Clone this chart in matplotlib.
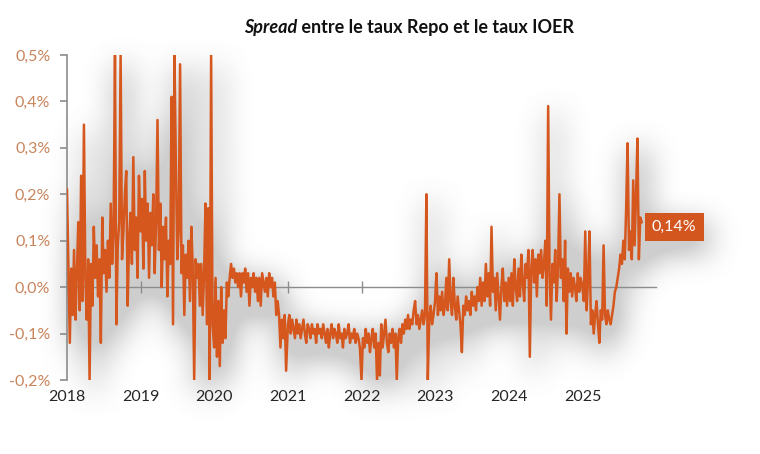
import numpy as np
import pandas as pd
import matplotlib
matplotlib.use("Agg")
import matplotlib.pyplot as plt
import matplotlib.dates as mdates

# weekly Repo - IOER spread, in basis points
spread_2018 = [21, 5, -12, 4, -6, 8, -7, 3, 14, -5, 24, -3, 35, 2, -7, 6, -20, 5, -4, 13,
               2, 9, -2, 6, -12, 15, 3, 8, -1, 10, 2, 18, 5, 12, 50, -8, 9, 14, 50, 6,
               12, 20, 25, -4, 10, 16, 5, 28, 8, 15, 2, 24]
spread_2019 = [12, 19, 4, 25, 10, 18, 2, 16, 9, 20, 3, 14, 36, 8, 18, 0, 13, 6, 15, -2,
               10, 5, 41, -8, 50, 27, 6, 12, 48, 3, 9, -6, 7, 2, 10, -3, 13, 4, -20, 6,
               2, 5, -4, 5, -6, 3, 18, -8, 17, -20, 50, -8]
spread_2020 = [-13, 2, -15, -3, -17, 0, -12, -5, -11, 1, -2, 2, 5, 2, 4, 1, 3, 0, 3, -2,
               3, 1, 4, -1, 3, -4, 2, 0, 3, -1, 2, -3, 2, -4, 3, 1, -1, 2, -2, 3,
               0, 2, -2, 1, -6, -3, -6, -13, -7, -11, -6, -18]
spread_2021 = [-8, -6, -10, -7, -9, -11, -7, -10, -8, -11, -9, -7, -10, -12, -8, -9, -11, -8, -10, -9,
               -12, -8, -10, -9, -11, -8, -10, -12, -9, -13, -10, -8, -11, -9, -10, -12, -8, -11, -10, -13,
               -9, -11, -10, -8, -12, -10, -11, -9, -12, -10, -11, -13]
spread_2022 = [-20, -11, -13, -9, -12, -10, -14, -11, -9, -13, -10, -20, -12, -19, -8, -13, -10, -7, -12, -14,
               -10, -12, -9, -13, -10, -20, -11, -9, -12, -8, -10, -7, -9, -6, -9, -7, -8, -5, -3, -8,
               -6, -9, -7, -5, -8, -6, 20, -20, -7, -4, -8, -6]
spread_2023 = [-3, 3, -6, -2, -5, -1, -6, -4, 2, -5, 6, -3, -6, 2, -4, -7, -2, -5, -8, -14,
               -4, -6, -2, -5, -3, -6, -1, -4, -2, -5, 0, -3, 2, -4, 1, -3, 5, -2, 3, -4,
               13, -1, 2, -5, 3, -2, -7, 0, 4, -3, 1, -4]
spread_2024 = [2, -3, 3, -4, 6, 0, -3, 4, -2, 7, 1, -3, 5, 2, 8, -15, 4, 8, 1, 6,
               -2, 7, 3, 8, 2, 5, 10, -4, 39, 3, -7, 5, 1, 8, -3, 4, 20, 2, 6, -3,
               10, -10, 4, -1, 3, -2, 2, 0, -3, 3, -1, 2]
spread_2025 = [0, -3, 12, -5, 2, 12, -8, -5, -10, -6, -3, -8, -12, -5, -7, 9, -6, -8, -5, -7,
               -8, -6, -4, -1, 0, 2, 4, 7, 5, 10, 6, 17, 31, 8, 12, 6, 23, 9, 20, 32,
               6, 15, 14]

years = [2018, 2019, 2020, 2021, 2022, 2023, 2024, 2025]
series = [spread_2018, spread_2019, spread_2020, spread_2021,
          spread_2022, spread_2023, spread_2024, spread_2025]

ytick_vals = [-0.2, -0.1, 0.0, 0.1, 0.2, 0.3, 0.4, 0.5]
ytick_labels = ['-0,2%', '-0,1%', '0,0%', '0,1%', '0,2%', '0,3%', '0,4%', '0,5%']
last_label = '0,14%'
title_italic = 'Spread'
title_rest = ' entre le taux Repo et le taux IOER'

ORANGE = '#D5571E'
GRAY = '#8C8C8C'

plt.rcParams['font.family'] = ['Lato', 'DejaVu Sans']

dates = []
vals = []
for yr, s in zip(years, series):
    d = pd.date_range(f'{yr}-01-01', periods=len(s), freq='7D')
    dates.extend(mdates.date2num(d.to_pydatetime()))
    vals.extend(np.array(s) / 100.0)
dates = np.array(dates)
vals = np.array(vals)

xlim = (mdates.date2num(pd.Timestamp('2018-01-01')), mdates.date2num(pd.Timestamp('2026-01-01')))
ylim = (-0.2, 0.5)
W, H = 760, 454
ax_pos = [67 / W, 1 - 380 / H, (656 - 67) / W, (380 - 55) / H]


def add_label(a, color, textcolor):
    return a.annotate(last_label, xy=(dates[-1], vals[-1]), xytext=(10, -5),
                      textcoords='offset pixels', ha='left', va='center',
                      fontsize=11.5, color=textcolor,
                      bbox=dict(boxstyle='square,pad=0.45', fc=color, ec='none'))


def box_blur(a, r):
    for axis in (0, 1):
        pad = [(0, 0), (0, 0)]
        pad[axis] = (r + 1, r)
        c = np.cumsum(np.pad(a, pad), axis=axis)
        if axis == 0:
            a = (c[2 * r + 1:] - c[:-2 * r - 1]) / (2 * r + 1)
        else:
            a = (c[:, 2 * r + 1:] - c[:, :-2 * r - 1]) / (2 * r + 1)
    return a


# soft drop shadow: render the line alone, blur it, put it behind the chart
f2 = plt.figure(figsize=(W / 100, H / 100), dpi=100)
a2 = f2.add_axes(ax_pos)
a2.plot(dates, vals, color='k', lw=6)
add_label(a2, 'k', 'k')
a2.set_xlim(*xlim)
a2.set_ylim(*ylim)
a2.axis('off')
f2.canvas.draw()
mask = 1 - np.asarray(f2.canvas.buffer_rgba())[:, :, 0].astype(float) / 255
plt.close(f2)
for _ in range(3):
    mask = box_blur(mask, 14)
shadow = np.zeros((H, W, 4))
shadow[:, :, :3] = 0.4
shadow[:, :, 3] = np.clip(mask * 1.8, 0, 1) * 0.32

fig = plt.figure(figsize=(W / 100, H / 100), dpi=100, facecolor='white')
fig.figimage(shadow, xo=5, yo=-11, origin='upper', zorder=-1)

ax = fig.add_axes(ax_pos)
ax.set_facecolor('none')
ax.plot(dates, vals, color=ORANGE, lw=1.8, zorder=3)
ax.set_xlim(*xlim)
ax.set_ylim(*ylim)

for side in ('top', 'right'):
    ax.spines[side].set_visible(False)
ax.spines['left'].set_color(GRAY)
ax.spines['left'].set_linewidth(1.2)
ax.spines['bottom'].set_position(('data', 0))
ax.spines['bottom'].set_color(GRAY)
ax.spines['bottom'].set_linewidth(1.0)

ax.set_yticks(ytick_vals)
ax.set_yticklabels(ytick_labels)
ax.tick_params(axis='y', direction='out', length=5, width=1.2, color=GRAY,
               labelcolor='#C8845A', labelsize=11.5, pad=7)

year_pos = [mdates.date2num(pd.Timestamp(f'{y}-01-01')) for y in years]
ax.set_xticks(year_pos)
ax.set_xticklabels([])
ax.tick_params(axis='x', direction='inout', length=8, width=1.0, color=GRAY)
for xp, y in zip(year_pos, years):
    ax.text(xp, -0.052, str(y), transform=ax.get_xaxis_transform(),
            ha='center', va='center', fontsize=11.5, color='#262626')

add_label(ax, '#D4561F', 'white')

# title: italic "Spread" followed by the rest in bold
fig.canvas.draw()
r = fig.canvas.get_renderer()
t1 = fig.text(0, 0, title_italic, fontsize=13, fontweight='bold', style='italic', color='#111111')
t2 = fig.text(0, 0, title_rest, fontsize=13, fontweight='bold', color='#111111')
w1 = t1.get_window_extent(r).width
w2 = t2.get_window_extent(r).width
x0 = 409 - (w1 + w2) / 2
ty = 1 - 27 / H
t1.set_position((x0 / W, ty))
t1.set_va('center')
t2.set_position(((x0 + w1) / W, ty))
t2.set_va('center')

fig.savefig('out.png', dpi=100)
